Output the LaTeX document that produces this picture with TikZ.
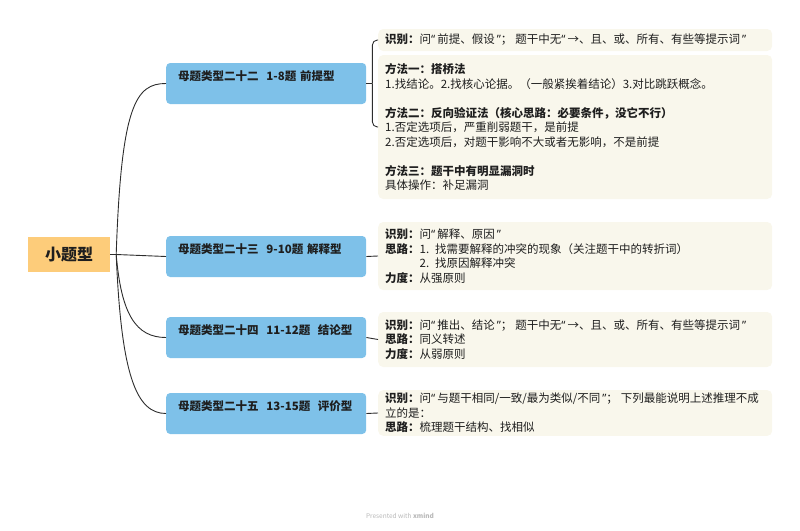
\documentclass[tikz,border=0pt]{standalone}
\usepackage{fontspec}
\setmainfont{Noto Sans CJK SC}
\newfontfamily\latinfont{Noto Sans}
\definecolor{racinefond}{RGB}{253,204,122}
\definecolor{branchefond}{RGB}{126,193,233}
\definecolor{detailfond}{RGB}{249,247,236}
\definecolor{trait}{RGB}{45,45,45}
\definecolor{texte}{RGB}{30,30,30}
\newcommand{\lbl}[1]{{\bfseries #1}}
\newcommand{\qq}[1]{{\latinfont “}\hspace{2pt}#1\hspace{2pt}{\latinfont ”}}
\tikzset{
  racine/.style={fill=racinefond, minimum width=82pt, minimum height=35pt, inner sep=0pt,
    text=texte, font=\fontsize{16}{18}\selectfont\bfseries},
  branche/.style={fill=branchefond, rounded corners=4pt, anchor=west, minimum height=41pt,
    text width=176pt, inner xsep=12pt, inner ysep=4pt, text height=13pt, text depth=20pt,
    align=left, text=texte, font=\fontsize{11.5}{14}\selectfont\bfseries},
  detail/.style={fill=detailfond, rounded corners=5pt, anchor=west, text width=380pt,
    inner xsep=7pt, inner ysep=3pt, align=left, text=texte,
    font=\fontsize{11.5}{14.5}\selectfont},
  lien/.style={draw=trait, line width=0.9pt},
}
\begin{document}
\begin{tikzpicture}[x=1pt, y=-1pt]
  % Cadre
  \useasboundingbox (0,0) rectangle (800,530);
  % Racine
  \node [racine] (root) at (69,254.5) {小题型};
  \coordinate (hub) at ([xshift=6pt]root.east);
  % Branches
  \node [branche] (b1) at (166,83.5)  {母题类型二十二\ \ 1-8题 前提型};
  \node [branche] (b2) at (166,256.5) {母题类型二十三\ \ 9-10题 解释型};
  \node [branche] (b3) at (166,337.5) {母题类型二十四\ \ 11-12题\ \ 结论型};
  \node [branche] (b4) at (166,413.5) {母题类型二十五\ \ 13-15题\ \ 评价型};
  % Details
  \node [detail, minimum height=22pt] (d1a) at (378,40)
    {\lbl{识别：}问\qq{前提、假设}；\hspace{3pt}题干中无\qq{→、且、或、所有、有些等提示词}};
  \node [detail, minimum height=144pt] (d1b) at (378,127)
    {\lbl{方法一：搭桥法}\\
     1.找结论。2.找核心论据。（一般紧挨着结论）3.对比跳跃概念。\\[14.5pt]
     \lbl{方法二：反向验证法（核心思路：必要条件，没它不行）}\\
     1.否定选项后，严重削弱题干，是前提\\
     2.否定选项后，对题干影响不大或者无影响，不是前提\\[14.5pt]
     \lbl{方法三：题干中有明显漏洞时}\\
     具体操作：补足漏洞};
  \node [detail, minimum height=68pt] (d2) at (378,256)
    {\lbl{识别：}问\qq{解释、原因}\\
     \lbl{思路：}1. 找需要解释的冲突的现象（关注题干中的转折词）\\
     \phantom{\lbl{思路：}}2. 找原因解释冲突\\
     \lbl{力度：}从强原则};
  \node [detail, minimum height=55pt] (d3) at (378,339.5)
    {\lbl{识别：}问\qq{推出、结论}；\hspace{3pt}题干中无\qq{→、且、或、所有、有些等提示词}\\
     \lbl{思路：}同义转述\\
     \lbl{力度：}从弱原则};
  \node [detail, minimum height=45pt] (d4) at (378,413)
    {\lbl{识别：}问\qq{与题干相同/一致/最为类似/不同}；\hspace{3pt}下列最能说明上述推理不成\\
     立的是：\\
     \lbl{思路：}梳理题干结构、找相似};
  % Liens racine - branches
  \draw [lien] (root.east) -- (hub);
  \draw [lien] (hub) .. controls +(5,-150) and +(-30,0) .. (b1.west);
  \draw [lien] (hub) -- (b2.west);
  \draw [lien] (hub) .. controls +(5,60) and +(-30,0) .. (b3.west);
  \draw [lien] (hub) .. controls +(5,120) and +(-30,0) .. (b4.west);
  % Liens branches - details
  \coordinate (j1) at ([xshift=6pt]b1.east);
  \draw [lien] (b1.east) -- (j1);
  \draw [lien, rounded corners=5pt] (j1) |- (d1a.west);
  \draw [lien, rounded corners=5pt] (j1) |- (d1b.west);
  \draw [lien] (b2.east) -- (d2.west);
  \draw [lien] (b3.east) -- (d3.west);
  \draw [lien] (b4.east) -- (d4.west);
  % Pied
  \node [text=black!28, font=\fontsize{6.5}{8}\selectfont] (pied) at (400,516)
    {Presented with \textbf{xmind}};
\end{tikzpicture}
\end{document}
